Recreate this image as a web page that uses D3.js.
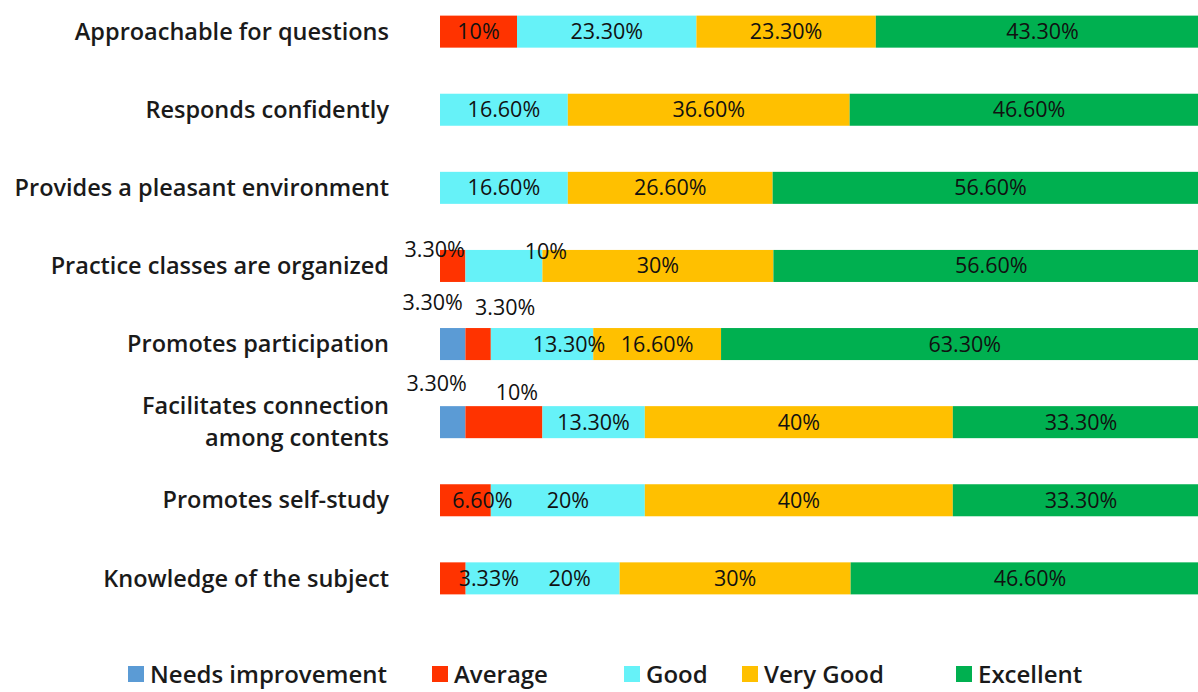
<!DOCTYPE html>
<html><head><meta charset="utf-8">
<script src="https://cdn.jsdelivr.net/npm/d3@7"></script>
<style>body{margin:0;background:#fff;} svg{display:block;}</style>
</head><body>
<svg id="chart" width="1198" height="692"></svg>
<script>
const categories = ["Approachable for questions","Responds confidently","Provides a pleasant environment","Practice classes are organized","Promotes participation","Facilitates connection|among contents","Promotes self-study","Knowledge of the subject"];
const seriesNames = ["Needs improvement","Average","Good","Very Good","Excellent"];
const needsImprovement = [0,0,0,0,3.3,3.3,0,0];
const average = [10,0,0,3.3,3.3,10,6.6,3.33];
const good = [23.3,16.6,16.6,10,13.3,13.3,20,20];
const veryGood = [23.3,36.6,26.6,30,16.6,40,40,30];
const excellent = [43.3,46.6,56.6,56.6,63.3,33.3,33.3,46.6];
const colors = ["#5B9BD5","#FF3300","#66F2F8","#FFC000","#00B050"];

// label nudges (style only): key "row-series"
const labelNudge = {"3-1":[-18,-16],"3-2":[42,-14],"4-0":[-20,-42],"4-1":[27,-37],"4-2":[27,0],"5-0":[-16,-39],"5-1":[13,-30],"6-1":[17,0],"7-1":[36,0],"7-2":[27,0]};

const series = [needsImprovement,average,good,veryGood,excellent];
const svg = d3.select("#chart");
const x = d3.scaleLinear().domain([0,100]).range([440,1210]);
const y = d3.scaleBand().domain(categories).range([0,610]).paddingInner(0.59).paddingOuter(0.2);
const fmt = v => Number.isInteger(v) ? v + "%" : v.toFixed(2) + "%";

const rows = categories.map((c,i)=>{
  let acc=0;
  return series.map((s,j)=>{const v=s[i]; const seg={row:i,ser:j,cat:c,x0:acc,x1:acc+v,v}; acc+=v; return seg;});
});
const segs = rows.flat().filter(d=>d.v>0);

svg.append("g").selectAll("rect").data(segs).join("rect")
  .attr("x",d=>x(d.x0)).attr("width",d=>x(d.x1)-x(d.x0))
  .attr("y",d=>y(d.cat)).attr("height",y.bandwidth())
  .attr("fill",d=>colors[d.ser]);

svg.append("g").selectAll("text").data(segs).join("text")
  .attr("x",d=>(x(d.x0)+x(d.x1))/2 + (labelNudge[d.row+"-"+d.ser]||[0,0])[0])
  .attr("y",d=>y(d.cat)+y.bandwidth()/2 + (labelNudge[d.row+"-"+d.ser]||[0,0])[1])
  .attr("dy","0.35em").attr("text-anchor","middle")
  .style("font-family","'Open Sans',sans-serif").style("font-size","21.5px").style("fill","#111")
  .text(d=>fmt(d.v));

const cl = svg.append("g").selectAll("text").data(categories).join("text")
  .attr("x",389).attr("text-anchor","end")
  .style("font-family","'Open Sans',sans-serif").style("font-size","23.5px").style("font-weight","600").style("fill","#1a1a1a");
cl.each(function(c){
  const lines=c.split("|"); const t=d3.select(this);
  const cy=y(c)+y.bandwidth()/2;
  lines.forEach((l,k)=>t.append("tspan").attr("x",389)
    .attr("y",cy+(k-(lines.length-1)/2)*32).attr("dy","0.35em").text(l));
});

const legX=[128,432,624,742,956];
const lg = svg.append("g").selectAll("g").data(seriesNames).join("g")
  .attr("transform",(d,i)=>`translate(${legX[i]},674)`);
lg.append("rect").attr("x",0).attr("y",-8).attr("width",16).attr("height",16).attr("fill",(d,i)=>colors[i]);
lg.append("text").attr("x",22).attr("dy","0.36em")
  .style("font-family","'Open Sans',sans-serif").style("font-size","24px").style("font-weight","600").style("fill","#1a1a1a")
  .text(d=>d);
</script>
</body></html>
